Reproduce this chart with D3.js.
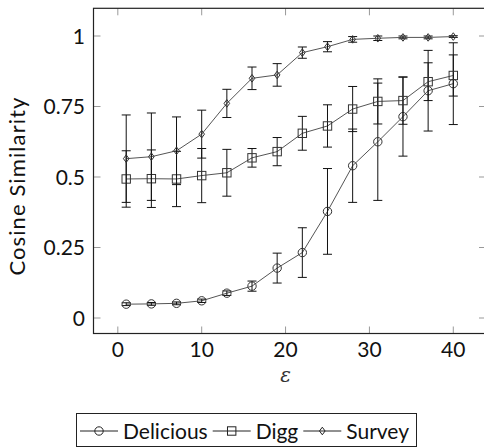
<!DOCTYPE html>
<html>
<head>
<meta charset="utf-8">
<script src="https://cdn.jsdelivr.net/npm/d3@7"></script>
<style>
  body { margin: 0; background: #fff; }
  svg { display: block; font-family: Lato, 'DejaVu Sans', sans-serif; }
</style>
</head>
<body>
<div id="chart"></div>
<script>
// epsilon values (x axis)
const epsilons = [1, 4, 7, 10, 13, 16, 19, 22, 25, 28, 31, 34, 37, 40];

const deliciousMean = [0.049, 0.050, 0.052, 0.061, 0.088, 0.113, 0.177, 0.232, 0.378, 0.540, 0.625, 0.714, 0.806, 0.831];
const deliciousErr  = [0.005, 0.005, 0.005, 0.006, 0.008, 0.018, 0.053, 0.088, 0.152, 0.130, 0.208, 0.140, 0.143, 0.145];

const diggMean = [0.493, 0.494, 0.493, 0.505, 0.515, 0.568, 0.590, 0.655, 0.681, 0.741, 0.768, 0.771, 0.838, 0.860];
const diggErr  = [0.100, 0.102, 0.098, 0.096, 0.083, 0.033, 0.050, 0.060, 0.075, 0.080, 0.080, 0.084, 0.067, 0.073];

const surveyMean = [0.565, 0.572, 0.593, 0.652, 0.761, 0.850, 0.862, 0.941, 0.962, 0.988, 0.992, 0.995, 0.995, 0.998];
const surveyErr  = [0.155, 0.155, 0.120, 0.085, 0.050, 0.040, 0.040, 0.020, 0.018, 0.010, 0.008, 0.005, 0.005, 0.003];

const seriesNames = ['Delicious', 'Digg', 'Survey'];
const seriesMarks = ['circle', 'square', 'diamond'];

const xTicks = [0, 10, 20, 30, 40];
const yTicks = [0, 0.25, 0.5, 0.75, 1];
const yTickLabels = ['0', '0.25', '0.5', '0.75', '1'];

const width = 484;
const height = 448;
const frame = { left: 93.5, top: 8.3, right: 486, bottom: 333.5 };

const lineColor = '#555';
const markColor = '#333';
const errColor = '#111';
const textColor = '#111';

const series = [
  { name: seriesNames[0], mark: seriesMarks[0], mean: deliciousMean, err: deliciousErr },
  { name: seriesNames[1], mark: seriesMarks[1], mean: diggMean, err: diggErr },
  { name: seriesNames[2], mark: seriesMarks[2], mean: surveyMean, err: surveyErr },
].map(s => ({ ...s, points: epsilons.map((x, i) => ({ x, y: s.mean[i], e: s.err[i] })) }));

const svg = d3.select('#chart').append('svg').attr('width', width).attr('height', height);

const xScale = d3.scaleLinear().domain([-2.9, 43.9]).range([frame.left, frame.right]);
const yScale = d3.scaleLinear().domain([0, 1]).range([318, 36]);

// ticks on all four sides, pointing inward
const tickLen = 7;
const ticks = svg.append('g').attr('stroke', '#999').attr('stroke-width', 1);
xTicks.forEach(t => {
  const x = xScale(t);
  ticks.append('line').attr('x1', x).attr('x2', x).attr('y1', frame.bottom).attr('y2', frame.bottom - tickLen);
  ticks.append('line').attr('x1', x).attr('x2', x).attr('y1', frame.top).attr('y2', frame.top + tickLen);
});
yTicks.forEach(t => {
  const y = yScale(t);
  ticks.append('line').attr('x1', frame.left).attr('x2', frame.left + tickLen).attr('y1', y).attr('y2', y);
  ticks.append('line').attr('x1', frame.right).attr('x2', frame.right - tickLen).attr('y1', y).attr('y2', y);
});

// tick labels
svg.append('g')
  .selectAll('text')
  .data(xTicks)
  .enter()
  .append('text')
  .attr('x', d => xScale(d))
  .attr('y', 357)
  .attr('text-anchor', 'middle')
  .attr('font-size', 21)
  .attr('fill', textColor)
  .text(d => d);

svg.append('g')
  .selectAll('text')
  .data(yTicks)
  .enter()
  .append('text')
  .attr('x', 85)
  .attr('y', d => yScale(d) + 7.5)
  .attr('text-anchor', 'end')
  .attr('font-size', 21)
  .attr('fill', textColor)
  .text((d, i) => yTickLabels[i]);

// axis labels
svg.append('text')
  .attr('transform', 'translate(25,186) rotate(-90)')
  .attr('text-anchor', 'middle')
  .attr('font-size', 22)
  .attr('letter-spacing', 1.1)
  .attr('fill', textColor)
  .text('Cosine Similarity');

svg.append('text')
  .attr('x', xScale(20))
  .attr('y', 382)
  .attr('text-anchor', 'middle')
  .attr('font-size', 20)
  .attr('font-style', 'italic')
  .attr('font-family', 'DejaVu Serif, serif')
  .attr('fill', '#333')
  .text('ε');

function drawMark(g, type, cx, cy) {
  if (type === 'circle') {
    g.append('circle').attr('cx', cx).attr('cy', cy).attr('r', 4.2);
  } else if (type === 'square') {
    g.append('rect').attr('x', cx - 4.2).attr('y', cy - 4.2).attr('width', 8.4).attr('height', 8.4);
  } else {
    g.append('path').attr('d', `M${cx},${cy - 3.8}L${cx + 2.8},${cy}L${cx},${cy + 3.8}L${cx - 2.8},${cy}Z`);
  }
}

const lineGenerator = d3.line()
  .x(d => xScale(d.x))
  .y(d => yScale(d.y));

const capHalf = 4.5;

series.forEach(s => {
  const g = svg.append('g');

  g.append('path')
    .attr('d', lineGenerator(s.points))
    .attr('fill', 'none')
    .attr('stroke', lineColor)
    .attr('stroke-width', 1);

  const eg = g.append('g').attr('stroke', errColor).attr('stroke-width', 1);
  s.points.forEach(p => {
    const x = xScale(p.x);
    const y0 = yScale(p.y - p.e);
    const y1 = yScale(p.y + p.e);
    eg.append('line').attr('x1', x).attr('x2', x).attr('y1', y0).attr('y2', y1);
    eg.append('line').attr('x1', x - capHalf).attr('x2', x + capHalf).attr('y1', y0).attr('y2', y0);
    eg.append('line').attr('x1', x - capHalf).attr('x2', x + capHalf).attr('y1', y1).attr('y2', y1);
  });

  const mg = g.append('g').attr('fill', 'none').attr('stroke', markColor).attr('stroke-width', 1);
  s.points.forEach(p => drawMark(mg, s.mark, xScale(p.x), yScale(p.y)));
});

// frame
svg.append('rect')
  .attr('x', frame.left)
  .attr('y', frame.top)
  .attr('width', frame.right - frame.left)
  .attr('height', frame.bottom - frame.top)
  .attr('fill', 'none')
  .attr('stroke', '#222')
  .attr('stroke-width', 1.2);

// legend
const legend = svg.append('g');
legend.append('rect')
  .attr('x', 76.5)
  .attr('y', 413.5)
  .attr('width', 340)
  .attr('height', 33)
  .attr('fill', '#fff')
  .attr('stroke', '#222')
  .attr('stroke-width', 1);

let lx = 80;
series.forEach(s => {
  const ly = 431;
  legend.append('line')
    .attr('x1', lx).attr('x2', lx + 38).attr('y1', ly).attr('y2', ly)
    .attr('stroke', '#222').attr('stroke-width', 1);
  const mg = legend.append('g').attr('fill', 'none').attr('stroke', '#222').attr('stroke-width', 1);
  drawMark(mg, s.mark, lx + 19, ly);
  const t = legend.append('text')
    .attr('x', lx + 43)
    .attr('y', ly + 8)
    .attr('font-size', 21)
    .attr('fill', textColor)
    .text(s.name);
  lx += 43 + t.node().getComputedTextLength() + 5;
});
</script>
</body>
</html>
